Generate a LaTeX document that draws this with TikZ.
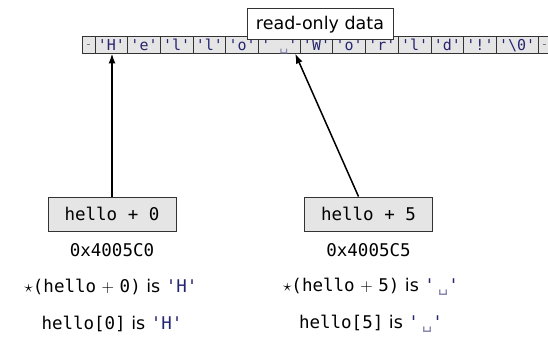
\documentclass[tikz,border=0pt]{standalone}
\usepackage{fontspec}
\setmainfont{DejaVu Sans}
\setmonofont{DejaVu Sans Mono}
\usetikzlibrary{positioning,arrows.meta}
\definecolor{chr}{RGB}{38,38,112}
\definecolor{cellgray}{RGB}{229,229,229}
\begin{document}
\begin{tikzpicture}[x=1pt,y=1pt,
  cell/.style={draw=black!80,line width=0.9pt,fill=cellgray,minimum height=17.5pt,inner xsep=2.8pt,inner ysep=0pt,outer sep=0pt,
    font=\fontsize{15}{17}\selectfont\ttfamily,text=chr,text height=13.5pt,text depth=1pt},
  dots/.style={cell,inner xsep=1pt,minimum width=12.5pt,text=black},
  ptrbox/.style={draw=black!80,line width=0.9pt,fill=cellgray,minimum width=128pt,minimum height=34pt,font=\fontsize{17.5}{20}\selectfont\ttfamily},
  txt/.style={font=\fontsize{17.5}{20}\selectfont},
  ptr/.style={line width=1.5pt,-{Latex[length=10pt,width=7pt]}}]
\useasboundingbox (0,0) rectangle (548,339);
\node[dots,anchor=west] (c1) at (82.5,294.25) {\raisebox{5.5pt}{\tiny\ldots}};
\node[cell,right=0pt of c1] (c2) {'H'};
\node[cell,right=0pt of c2] (c3) {'e'};
\node[cell,right=0pt of c3] (c4) {'l'};
\node[cell,right=0pt of c4] (c5) {'l'};
\node[cell,right=0pt of c5] (c6) {'o'};
\node[cell,right=0pt of c6] (c7) {' \textcolor{chr!55}{␣}'};
\node[cell,right=0pt of c7] (c8) {'W'};
\node[cell,right=0pt of c8] (c9) {'o'};
\node[cell,right=0pt of c9] (c10) {'r'};
\node[cell,right=0pt of c10] (c11) {'l'};
\node[cell,right=0pt of c11] (c12) {'d'};
\node[cell,right=0pt of c12] (c13) {'!'};
\node[cell,right=0pt of c13] (c14) {'\textbackslash0'};
\node[dots,right=0pt of c14] (c15) {\raisebox{5.5pt}{\tiny\ldots}};
\node[draw=black!80,line width=0.9pt,fill=white,txt,minimum width=146pt,minimum height=31pt] (ro) at (320,314.75) {read-only data};
\node[ptrbox] (b0) at (112,125) {hello + 0};
\node[ptrbox] (b5) at (368.5,125) {hello + 5};
\node[txt,font=\fontsize{17.5}{20}\selectfont\ttfamily] (a0) at (112,89) {0x4005C0};
\node[txt,font=\fontsize{17.5}{20}\selectfont\ttfamily] (a5) at (368.5,89) {0x4005C5};
\node[txt] (d0) at (111,52) {$\star$\texttt{(hello}~$+$~\texttt{0)} is \texttt{\color{chr}'H'}};
\node[txt] (d5) at (371,52) {$\star$\texttt{(hello}~$+$~\texttt{5)} is \texttt{\color{chr}'\,\textcolor{chr!55}{␣}'}};
\node[txt] (i0) at (112,15) {\texttt{hello[0]} is \texttt{\color{chr}'H'}};
\node[txt] (i5) at (371,15) {\texttt{hello[5]} is \texttt{\color{chr}'\,\textcolor{chr!55}{␣}'}};
\draw[ptr] (b0.north) -- (b0.north |- c2.south);
\draw[ptr] ([xshift=-10pt]b5.north) -- ([xshift=-5pt]c7.south east);
\end{tikzpicture}
\end{document}
